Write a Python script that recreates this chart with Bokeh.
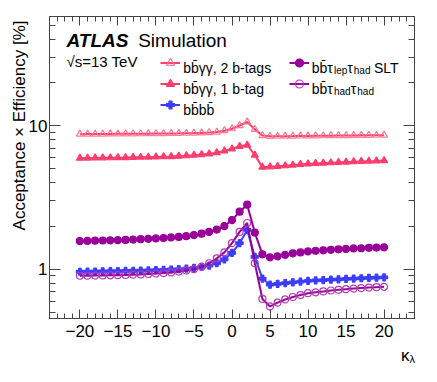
import math
from bokeh.plotting import figure
from bokeh.models import (Range1d, FixedTicker, LinearAxis, LogAxis, Label,
                          Legend, LegendItem, Title)
from bokeh.embed import file_html
from bokeh.resources import INLINE

# ---------------- data ----------------
kappa = list(range(-20, 21))

bbyy_2tag = [8.75, 8.76, 8.77, 8.77, 8.78, 8.79, 8.80, 8.80, 8.81, 8.82,
             8.83, 8.84, 8.85, 8.86, 8.88, 8.90, 8.93, 8.98, 9.05, 9.25,
             9.55, 10.05, 10.65, 9.45, 8.55, 8.45, 8.46, 8.47, 8.48, 8.50,
             8.51, 8.52, 8.53, 8.54, 8.55, 8.56, 8.57, 8.58, 8.59, 8.60, 8.61]

bbyy_1tag = [5.95, 5.96, 5.97, 5.98, 5.99, 6.00, 6.01, 6.03, 6.04, 6.06,
             6.07, 6.09, 6.11, 6.15, 6.19, 6.24, 6.30, 6.38, 6.50, 6.68,
             6.92, 7.20, 7.35, 6.25, 5.15, 5.18, 5.22, 5.27, 5.33, 5.38,
             5.43, 5.47, 5.50, 5.53, 5.56, 5.59, 5.62, 5.65, 5.67, 5.69, 5.72]

bbbb = [0.960, 0.962, 0.964, 0.966, 0.968, 0.970, 0.972, 0.975, 0.978, 0.981,
        0.985, 0.990, 0.995, 1.000, 1.010, 1.020, 1.040, 1.060, 1.100, 1.170,
        1.300, 1.520, 1.880, 1.220, 0.860, 0.780, 0.790, 0.800, 0.810, 0.820,
        0.830, 0.835, 0.840, 0.845, 0.850, 0.855, 0.860, 0.865, 0.870, 0.873, 0.876]

bbtt_lephad = [1.570, 1.575, 1.580, 1.585, 1.590, 1.595, 1.600, 1.610, 1.620, 1.630,
               1.640, 1.650, 1.665, 1.680, 1.700, 1.730, 1.770, 1.820, 1.890, 2.000,
               2.200, 2.520, 2.820, 1.800, 1.270, 1.210, 1.230, 1.260, 1.290, 1.310,
               1.330, 1.345, 1.355, 1.365, 1.375, 1.385, 1.395, 1.400, 1.410, 1.415, 1.420]

bbtt_hadhad = [0.900, 0.901, 0.903, 0.905, 0.907, 0.909, 0.912, 0.916, 0.920, 0.926,
               0.933, 0.940, 0.950, 0.963, 0.980, 1.000, 1.040, 1.100, 1.190, 1.310,
               1.520, 1.820, 2.100, 1.100, 0.620, 0.550, 0.585, 0.615, 0.640, 0.660,
               0.680, 0.690, 0.700, 0.710, 0.718, 0.725, 0.732, 0.738, 0.744, 0.749, 0.754]

x_major = [-20, -15, -10, -5, 0, 5, 10, 15, 20]
x_minor = list(range(-24, 25))
y_major = [1, 10]
y_minor = [0.5, 0.6, 0.7, 0.8, 0.9, 2, 3, 4, 5, 6, 7, 8, 9, 20, 30, 40, 50]

FONT = "Liberation Sans"
AXC = "#444444"

p = figure(width=421, height=366, x_range=Range1d(-24, 24),
           y_range=Range1d(0.453, 57.9), y_axis_type="log",
           output_backend="svg", toolbar_location=None,
           min_border_left=49, min_border_right=7, min_border_top=16,
           min_border_bottom=48)
p.grid.visible = False
p.outline_line_color = AXC
p.background_fill_color = "white"
p.border_fill_color = "white"

xt = FixedTicker(ticks=x_major, minor_ticks=x_minor)
yt = FixedTicker(ticks=y_major, minor_ticks=y_minor)

def style_axis(ax, ticker, major_len, minor_len, labels=True, standoff=4):
    ax.ticker = ticker
    ax.axis_line_color = AXC
    ax.major_tick_line_color = AXC
    ax.minor_tick_line_color = AXC
    ax.major_tick_in = major_len
    ax.major_tick_out = 0
    ax.minor_tick_in = minor_len
    ax.minor_tick_out = 0
    if labels:
        ax.major_label_text_font = FONT
        ax.major_label_text_font_size = "17px"
        ax.major_label_text_color = "black"
        ax.major_label_standoff = standoff
    else:
        ax.major_label_text_font_size = "2px"
        ax.major_label_text_alpha = 0
        ax.major_label_standoff = 0

style_axis(p.xaxis[0], xt, 9, 5, standoff=6)
p.xaxis[0].major_label_overrides = {v: (str(v).replace("-", "\u2212")) for v in x_major}
# invisible spacer label so that the title row below sits at the right height
p.xaxis[0].axis_label = " "
p.xaxis[0].axis_label_text_font_size = "4px"
p.xaxis[0].axis_label_standoff = 5
style_axis(p.yaxis[0], yt, 11, 6, standoff=2)
p.yaxis[0].major_label_overrides = {1: "1", 10: "10"}

top = LinearAxis()
style_axis(top, xt, 9, 5, labels=False)
p.add_layout(top, "above")
right = LogAxis()
style_axis(right, yt, 11, 6, labels=False)
right.major_label_overrides = {1: ".", 10: "."}
p.add_layout(right, "right")

PINK = "#ff3c6e"
PINK_L = "#ff7a95"
BLUE = "#3c3cff"
PURP = "#990099"
PURP_L = "#b23ab2"

series = [
    (bbyy_2tag, PINK, PINK_L, "triangle", 7, False),
    (bbyy_1tag, PINK, PINK, "triangle", 7, True),
    (bbbb, BLUE, BLUE, "plus", 7, True),
    (bbtt_lephad, PURP, PURP, "circle", 7, True),
    (bbtt_hadhad, PURP, PURP_L, "circle", 7, False),
]
rends = []
for vals, lc, mc, mk, sz, filled in series:
    lr = p.line(kappa, vals, line_color=lc, line_width=2)
    sr = p.scatter(kappa, vals, marker=mk, size=sz, line_color=mc,
                   fill_color=mc, fill_alpha=1.0 if filled else 0.0,
                   line_width=1.2)
    rends.append([lr, sr])

def make_legend(rlist, lx, ly):
    leg = Legend(items=[LegendItem(label=" ", renderers=r) for r in rlist],
                 location=(lx, ly), glyph_width=20, glyph_height=21,
                 label_height=21, label_width=1, label_standoff=0,
                 label_text_font_size="4px", spacing=0, padding=0, margin=0,
                 border_line_alpha=0, background_fill_alpha=0)
    p.add_layout(leg)

# frame in page coordinates
FL, FB = 57, 326
make_legend(rends[0:3], 168 - FL, FB - 122.5)
make_legend(rends[3:5], 297 - FL, FB - 101.5)

def lab(text, px, py, size, style="normal", align="left", angle=0.0):
    p.add_layout(Label(x=px - FL, y=FB - py, x_units="screen", y_units="screen",
                       text=text, text_font=FONT, text_font_size=f"{size}px",
                       text_font_style=style, text_color="black",
                       text_align=align, text_baseline="alphabetic",
                       angle=angle))

B = "b\u0304"
# ATLAS label
lab("ATLAS", 74, 48.3, 19, "bold italic")
lab("Simulation", 145.7, 48.3, 19)
lab("\u221as=13 TeV", 74, 68.5, 15)

# legend texts
lab("b" + B + "\u03b3\u03b3, 2 b-tags", 190.7, 75, 14)
lab("b" + B + "\u03b3\u03b3, 1 b-tag", 190.7, 96, 14)
lab("b" + B + "b" + B, 190.7, 117, 14)

lab("b" + B + "\u03c4", 319.3, 75, 14)
lab("lep", 341.5, 78, 10)
lab("\u03c4", 354.8, 75, 14)
lab("had", 361.3, 78, 10)
lab("SLT", 381.4, 75, 14)

lab("b" + B + "\u03c4", 319.3, 96, 14)
lab("had", 341.5, 99, 10)
lab("\u03c4", 358.3, 96, 14)
lab("had", 364.8, 99, 10)

# axis titles (side-panel titles, not clipped by the frame)
ytitle = Title(text="Acceptance \u00d7 Efficiency [%]", align="right", offset=4,
               standoff=-6, vertical_align="bottom", text_font=FONT,
               text_font_size="17px", text_font_style="normal", text_color="black")
p.add_layout(ytitle, "left")

k_title = Title(text="\u03ba", align="right", offset=5, standoff=-16,
                vertical_align="middle", text_font=FONT, text_font_size="17px",
                text_font_style="normal", text_color="black")
p.add_layout(k_title, "below")
l_title = Title(text="\u03bb", align="left", offset=360, standoff=-12,
                vertical_align="middle", text_font=FONT, text_font_size="11px",
                text_font_style="normal", text_color="black")
p.add_layout(l_title, "below")

open("out.html", "w").write(file_html(p, INLINE))
